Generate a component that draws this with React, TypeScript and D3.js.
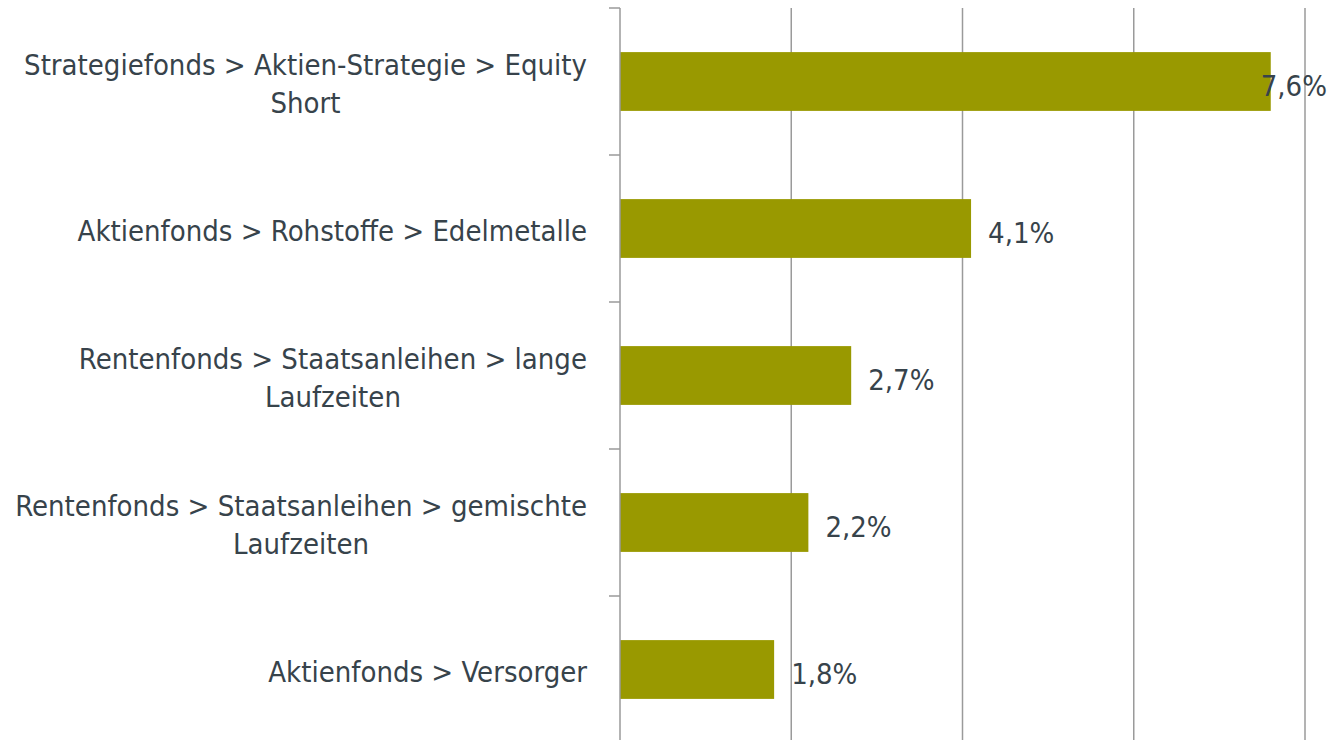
import React from "react";
import * as d3 from "d3";

const categories: string[] = [
  "Strategiefonds > Aktien-Strategie > Equity Short",
  "Aktienfonds > Rohstoffe > Edelmetalle",
  "Rentenfonds > Staatsanleihen > lange Laufzeiten",
  "Rentenfonds > Staatsanleihen > gemischte Laufzeiten",
  "Aktienfonds > Versorger",
];
const values: number[] = [7.6, 4.1, 2.7, 2.2, 1.8];
const xTicks: number[] = [0, 2, 4, 6, 8];

const W = 1330;
const H = 740;
const FONT = "'DejaVu Sans Condensed', 'Liberation Sans', sans-serif";
const FS = 29;
const TEXT = "#37434b";
const GRID = "#9a9a9a";
const BAR = "#999900";

function measure(s: string, font: string): number {
  const c = document.createElement("canvas").getContext("2d")!;
  c.font = font;
  return c.measureText(s).width;
}

function wrap(s: string, maxW: number): string[] {
  const words = s.split(" ");
  const lines: string[] = [];
  let cur = "";
  for (const w of words) {
    const t = cur ? cur + " " + w : w;
    if (cur && measure(t, `${FS}px ${FONT}`) > maxW) {
      lines.push(cur);
      cur = w;
    } else cur = t;
  }
  if (cur) lines.push(cur);
  return lines;
}

export default function App() {
  const x = d3.scaleLinear().domain([0, 8]).range([620, 1305]);
  const y = d3.scaleBand<string>().domain(categories).range([8, 743]).paddingInner(0.6).paddingOuter(0.3);
  const band = d3.scaleBand<string>().domain(categories).range([8, 743]);
  const fmt = (v: number) => d3.format(".1f")(v).replace(".", ",") + "%";

  return (
    <svg width={W} height={H} style={{ position: "absolute", left: 0, top: 0, background: "#fff" }}>
      {xTicks.slice(1).map((t) => (
        <line key={t} x1={x(t)} x2={x(t)} y1={8} y2={H} stroke={GRID} strokeWidth={1.5} />
      ))}
      {categories.map((c, i) => (
        <rect key={c} x={x(0)} y={y(c)!} width={x(values[i]) - x(0)} height={y.bandwidth()} fill={BAR} />
      ))}
      <line x1={x(0)} x2={x(0)} y1={8} y2={H} stroke={GRID} strokeWidth={1.5} />
      {categories.map((c, i) => (
        <line key={"t" + i} x1={609} x2={x(0)} y1={band(c)!} y2={band(c)!} stroke={GRID} strokeWidth={1.5} />
      ))}
      {categories.map((c) => {
        const lines = wrap(c, 580);
        const bw = Math.max(...lines.map((l) => measure(l, `${FS}px ${FONT}`)));
        const cx = 587 - bw / 2;
        const cy = band(c)! + band.bandwidth() / 2 + 12.5;
        return (
          <text key={"l" + c} textAnchor="middle" fontFamily={FONT} fontSize={FS} fill={TEXT}>
            {lines.map((ln, j) => (
              <tspan key={j} x={cx} y={cy + (j - (lines.length - 1) / 2) * 38}>
                {ln}
              </tspan>
            ))}
          </text>
        );
      })}
      {categories.map((c, i) => {
        const label = fmt(values[i]);
        const lw = measure(label, `${FS}px ${FONT}`);
        const lx = Math.min(x(values[i]) + 17, W - 3 - lw);
        return (
          <text key={"v" + c} x={lx} y={band(c)! + band.bandwidth() / 2 + 14} fontFamily={FONT} fontSize={FS} fill={TEXT}>
            {label}
          </text>
        );
      })}
    </svg>
  );
}
